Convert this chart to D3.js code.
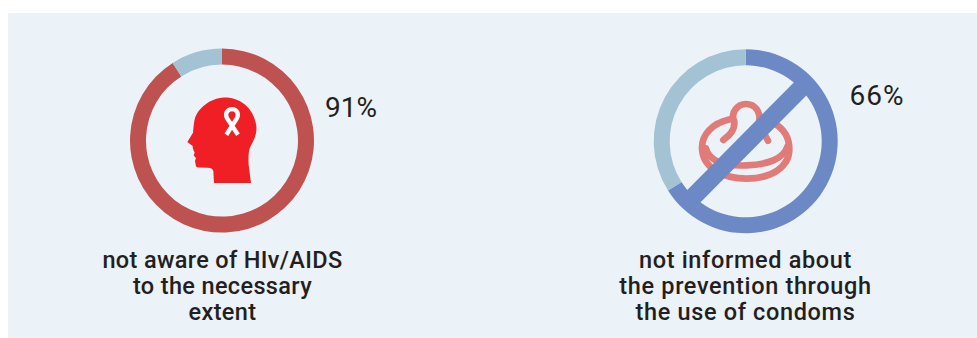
<!DOCTYPE html>
<html>
<head>
<meta charset="utf-8">
<script src="https://cdn.jsdelivr.net/npm/d3@7"></script>
<style>
  html, body { margin: 0; padding: 0; background: #fff; }
  svg { display: block; }
  text { font-family: Roboto, sans-serif; fill: #231f20; }
</style>
</head>
<body>
<svg id="chart" width="977" height="338"></svg>
<script>
// Share of respondents per topic
const topics = ["hiv", "condoms"];
const shares = [91, 66];
const shareLabels = ["91%", "66%"];
const captions = [
  ["not aware of HIv/AIDS", "to the necessary", "extent"],
  ["not informed about", "the prevention through", "the use of condoms"]
];
const ringColors = ["#bd5250", "#6c89c6"];
const restColor = "#a3c2d3";

const svg = d3.select("#chart");
svg.append("rect").attr("x", 8).attr("y", 13).attr("width", 969).attr("height", 325).attr("fill", "#ebf2f8");

const centers = d3.scalePoint().domain(topics).range([222, 745.7]);
const centerY = { hiv: 140.6, condoms: 141.3 };
const labelPos = { hiv: [351, 117], condoms: [877, 105] };
const labelSpacing = { hiv: 0, condoms: 1 };
const captionX = { hiv: 222.5, condoms: 745.5 };
const captionSpacing = { hiv: 0.35, condoms: 0.65 };

const pie = d3.pie().sort(null).startAngle(0).endAngle(2 * Math.PI);
const arc = d3.arc().innerRadius(76).outerRadius(92);

const groups = svg.selectAll("g.topic").data(topics).join("g")
  .attr("class", "topic")
  .attr("transform", d => `translate(${centers(d)},${centerY[d]})`);

groups.each(function (d, i) {
  const g = d3.select(this);
  g.selectAll("path.slice")
    .data(pie([shares[i], 100 - shares[i]]))
    .join("path")
    .attr("class", "slice")
    .attr("d", arc)
    .attr("fill", (_, j) => j === 0 ? ringColors[i] : restColor);
});

// Head silhouette with awareness ribbon
const head = groups.filter(d => d === "hiv").append("g").attr("transform", "translate(-42,-50.5) scale(0.3333)");
head.append("path").attr("fill", "#f01f25").attr("d",
  "M102 279 L100 243 C98 236 92 233 84 233 L56 232 C50 232 47 229 47 224 L45 212 L48 204 L41 196 L44 187 C38 178 38 172 38 168 L22 156 L39 128 C40 120 41 100 44 88 C52 55 90 24 132 22 C175 20 222 50 229 108 C232 135 218 155 210 172 C205 185 205 205 206 225 L213 279 Z");
head.append("path").attr("fill", "none").attr("stroke", "#fff").attr("stroke-width", 13)
  .attr("d", "M139 134 L171 84 C178 70 170 57 156 57 C142 57 134 70 141 84 L174 134");

// Condom outline crossed by the prohibition bar
const cg = groups.filter(d => d === "condoms").append("g").attr("fill", "none");
const icon = cg.append("g").attr("transform", "translate(-105.7,-101.3) scale(0.3333)")
  .attr("stroke", "#e07b78").attr("stroke-width", 20).attr("stroke-linecap", "round");
icon.append("path").attr("d",
  "M270 238 C215 250 186 285 186 322 C186 385 250 416 320 416 C395 416 448 380 448 328 C448 295 432 268 405 252");
icon.append("path").attr("d",
  "M198 325 C205 360 250 380 320 376 C385 374 432 355 442 320");
icon.append("path").attr("d",
  "M250 300 C262 290 285 275 283 245 C270 215 295 192 318 192 C345 192 362 215 358 245");
icon.append("path").attr("d", "M360 262 C370 275 378 290 384 302");
cg.append("line")
  .attr("x1", 57).attr("y1", -55).attr("x2", -53).attr("y2", 56)
  .attr("stroke", "#6c89c6").attr("stroke-width", 18);

// Value labels
svg.selectAll("text.value").data(topics).join("text")
  .attr("class", "value")
  .attr("x", d => labelPos[d][0]).attr("y", d => labelPos[d][1])
  .attr("text-anchor", "middle").attr("font-size", 28).attr("font-weight", 400)
  .attr("letter-spacing", d => labelSpacing[d])
  .text((d, i) => shareLabels[i]);

// Captions under each ring
topics.forEach((t, i) => {
  svg.append("text").attr("class", "caption")
    .attr("text-anchor", "middle").attr("font-size", 23.5).attr("font-weight", 500)
    .attr("letter-spacing", captionSpacing[t])
    .selectAll("tspan").data(captions[i]).join("tspan")
    .attr("x", captionX[t]).attr("y", (_, k) => 267.5 + k * 26)
    .text(l => l);
});
</script>
</body>
</html>
